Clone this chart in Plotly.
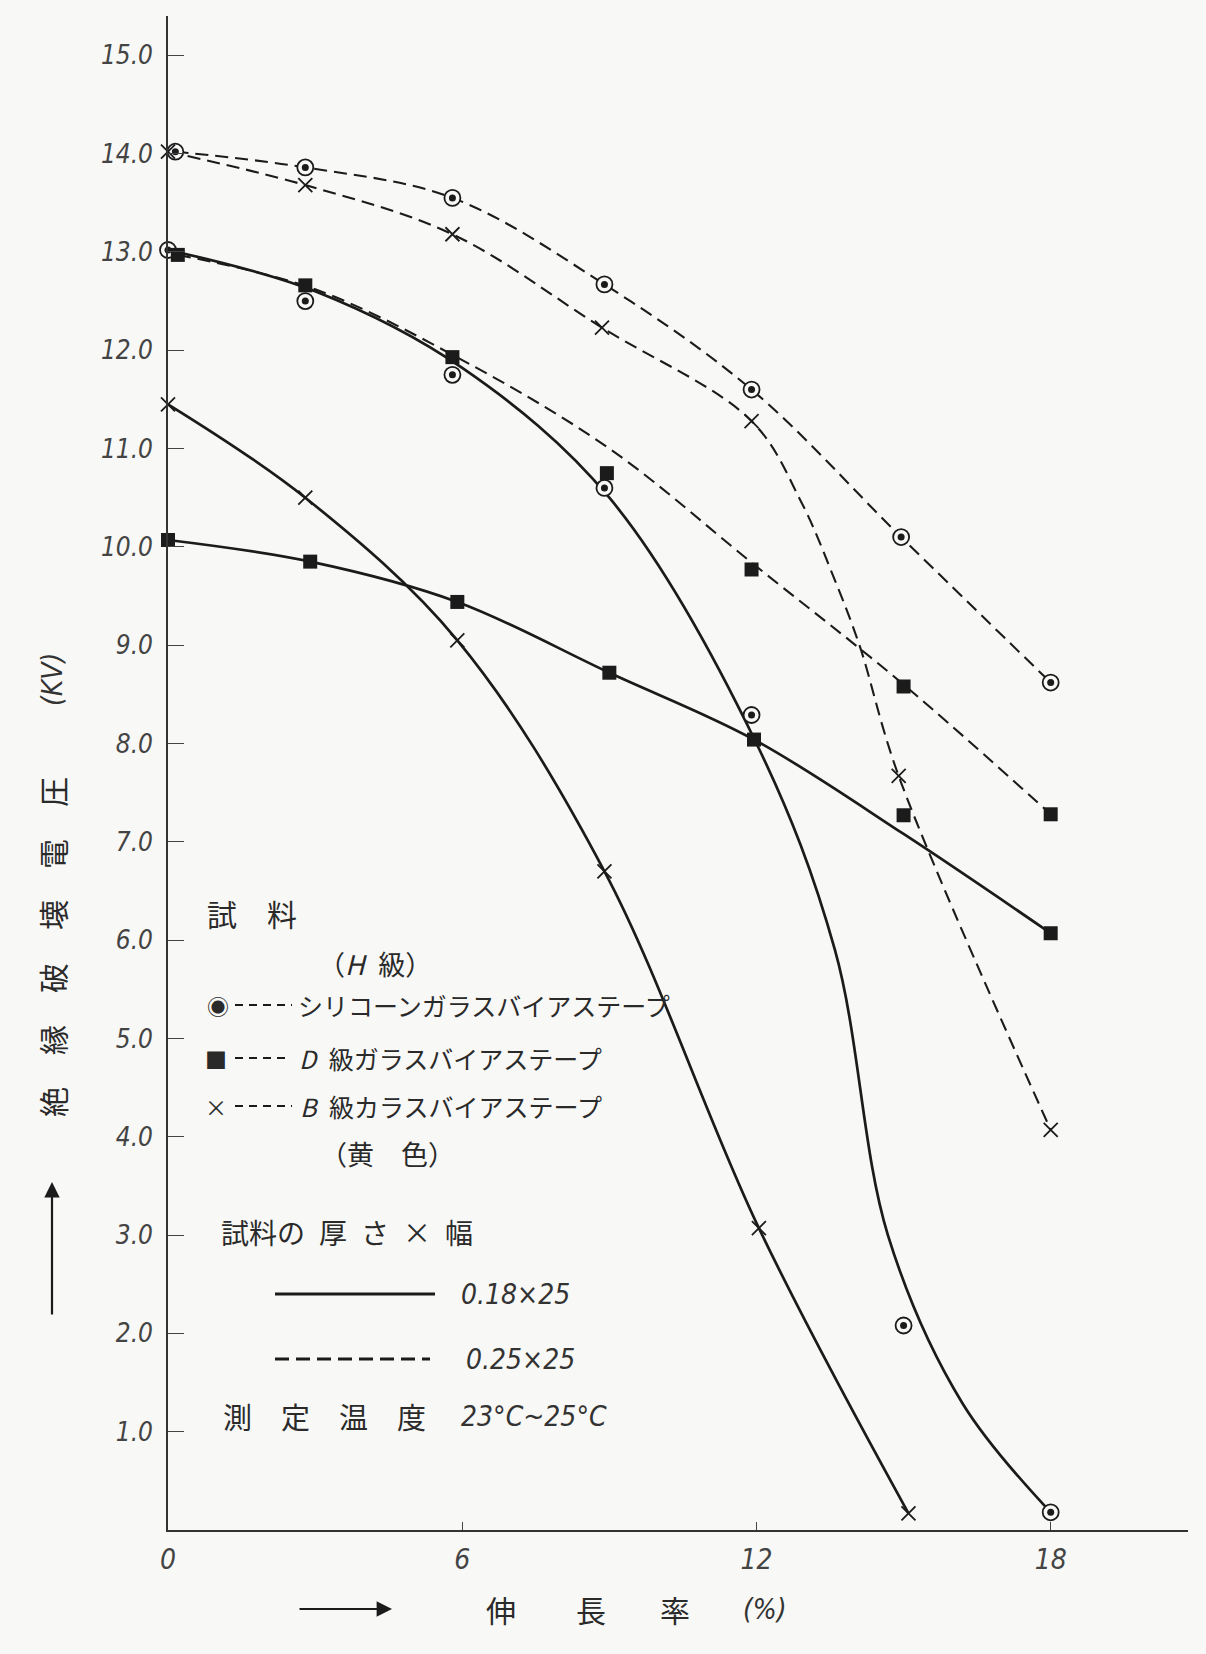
import plotly.graph_objects as go

# ---------------- data ----------------
# Silicone glass bias tape (H class) - measured points
sil_thin_x = [0, 2.8, 5.8, 8.9, 11.9, 15.0, 18.0]
sil_thin_y = [13.02, 12.5, 11.75, 10.6, 8.29, 2.08, 0.18]
sil_thick_x = [0.15, 2.8, 5.8, 8.9, 11.9, 14.95, 18.0]
sil_thick_y = [14.02, 13.86, 13.55, 12.67, 11.6, 10.1, 8.62]
# D class glass bias tape - measured points
d_thin_x = [0, 2.9, 5.9, 9.0, 11.95, 15.0, 18.0]
d_thin_y = [10.07, 9.85, 9.44, 8.72, 8.04, 7.27, 6.07]
d_thick_x = [0.2, 2.8, 5.8, 8.95, 11.9, 15.0, 18.0]
d_thick_y = [12.97, 12.66, 11.93, 10.75, 9.77, 8.58, 7.28]
# B class glass bias tape (yellow) - measured points
b_thin_x = [0, 2.8, 5.9, 8.9, 12.05, 15.1]
b_thin_y = [11.45, 10.5, 9.05, 6.7, 3.07, 0.17]
b_thick_x = [0, 2.8, 5.8, 8.85, 11.9, 14.9, 18.0]
b_thick_y = [14.02, 13.68, 13.18, 12.23, 11.28, 7.67, 4.07]

# hand-drawn curves (read along the drawn lines where they leave the points)
sil_thin_cx = [0, 3, 6, 9, 12, 13.6, 14.68, 16.2, 18.0]
sil_thin_cy = [13.02, 12.6, 11.82, 10.5, 8.0, 5.9, 3.0, 1.29, 0.18]
d_thin_cx = [0, 2.9, 5.9, 9.0, 11.95, 15.0, 18.0]
d_thin_cy = [10.07, 9.85, 9.44, 8.72, 8.04, 7.08, 6.07]
d_thick_cx = [0.2, 3.0, 6.0, 9.0, 12.0, 15.0, 18.0]
d_thick_cy = [12.97, 12.62, 11.9, 11.0, 9.8, 8.6, 7.28]
b_thick_cx = [0, 2.8, 5.8, 8.85, 11.9, 12.9, 13.6, 14.1, 14.9, 18.0]
b_thick_cy = [14.02, 13.68, 13.18, 12.23, 11.28, 10.47, 9.66, 9.0, 7.67, 4.07]

x_ticks = [0, 6, 12, 18]
x_ticklabels = ["0", "6", "12", "18"]
y_ticks = list(range(1, 16))
y_ticklabels = [f"{v}.0" for v in y_ticks]

# ---------------- styling ----------------
INK = "#1b1b1b"
BG = "#f8f8f6"
NUM_FONT = "Liberation Sans Narrow, DejaVu Sans Condensed, Roboto, sans-serif"
JP_FONT = "Noto Sans CJK JP, Noto Sans CJK SC, sans-serif"

W, H = 1206, 1654
ML, MR, MT, MB = 168, 18, 16, 124
PW, PH = W - ML - MR, H - MT - MB
X0, Y0 = ML, H - MB


def px(xpix):
    return (xpix - X0) / PW


def py(ypix):
    return (Y0 - ypix) / PH


fig = go.Figure()

SOLID = dict(color=INK, width=2.7)
DASH = dict(color=INK, width=2.1, dash="13px,7px")


def add_curve(cx, cy, line):
    fig.add_trace(go.Scatter(x=cx, y=cy, mode="lines", line=dict(shape="spline", smoothing=1.0, **line),
                             hoverinfo="skip", showlegend=False, cliponaxis=False))


def add_marks(mx, my, symbol, size, lw):
    fig.add_trace(go.Scatter(x=mx, y=my, mode="markers",
                             marker=dict(symbol=symbol, size=size, color=INK,
                                         line=dict(color=INK, width=lw)),
                             showlegend=False, cliponaxis=False))


add_curve(sil_thick_x, sil_thick_y, DASH)
add_curve(b_thick_cx, b_thick_cy, DASH)
add_curve(d_thick_cx, d_thick_cy, DASH)
add_curve(sil_thin_cx, sil_thin_cy, SOLID)
add_curve(d_thin_cx, d_thin_cy, SOLID)
add_curve(b_thin_x, b_thin_y, SOLID)

for mx, my in [(sil_thin_x, sil_thin_y), (sil_thick_x, sil_thick_y)]:
    fig.add_trace(go.Scatter(x=mx, y=my, mode="markers",
                             marker=dict(symbol="circle", size=16, color=BG,
                                         line=dict(color=INK, width=1.8)),
                             showlegend=False, cliponaxis=False))
    fig.add_trace(go.Scatter(x=mx, y=my, mode="markers",
                             marker=dict(symbol="circle", size=7, color=INK),
                             showlegend=False, cliponaxis=False))
for mx, my in [(d_thin_x, d_thin_y), (d_thick_x, d_thick_y)]:
    add_marks(mx, my, "square", 14, 0)
for mx, my in [(b_thin_x, b_thin_y), (b_thick_x, b_thick_y)]:
    add_marks(mx, my, "x-thin-open", 14, 1.8)

ann = []


def text(x, y, t, size=26, family=JP_FONT, xanchor="left", angle=0, italic=False, color="#2a2a2a"):
    ann.append(dict(x=px(x), y=py(y), xref="paper", yref="paper", text=t, showarrow=False,
                    xanchor=xanchor, yanchor="middle", textangle=angle,
                    font=dict(family=family, size=size, color=color,
                              style="italic" if italic else "normal")))


# legend block
text(205, 913, "試\u3000料", 30)
text(316, 963, "（<i>H</i>\u2002級）", 27)
text(218, 1005, "◉", 22, xanchor="center")
text(216, 1058, "■", 22, xanchor="center")
text(216, 1106, "×", 22, xanchor="center")
text(296, 1005, "シリコーンガラスバイアステープ", 25)
text(297, 1058, "<i>D</i>\u2002級ガラスバイアステープ", 25)
text(298, 1106, "<i>B</i>\u2002級カラスバイアステープ", 25)
text(318, 1153, "（黄\u3000色）", 27)
text(219, 1232, "試料の\u2002厚\u2002さ\u2002×\u2002幅", 28)
text(459, 1294, "0.18×25", 28, family=NUM_FONT, italic=True, color="#333")
text(464, 1359, "0.25×25", 28, family=NUM_FONT, italic=True, color="#333")
text(221, 1416, "測\u3000定\u3000温\u3000度", 29)
text(459, 1416, "23°C~25°C", 28, family=NUM_FONT, italic=True, color="#333")

# y-axis title (rotated characters)
for ch, yy in [("絶", 1102), ("縁", 1040), ("破", 978), ("壊", 915), ("電", 854), ("圧", 792)]:
    text(52, yy, ch, 30, xanchor="center", angle=-90)
text(52, 680, "(KV)", 28, family=NUM_FONT, xanchor="center", angle=-90, italic=True, color="#333")
# x-axis title
for ch, xx in [("伸", 501), ("長", 591), ("率", 675)]:
    text(xx, 1609, ch, 30, xanchor="center")
text(765, 1609, "(%)", 28, family=NUM_FONT, xanchor="center", italic=True, color="#333")

# arrows
ann.append(dict(x=px(52), y=py(1182), xref="paper", yref="paper", ax=0, ay=134, text="",
                showarrow=True, arrowhead=2, arrowsize=1.4, arrowwidth=2.2, arrowcolor=INK))
ann.append(dict(x=px(392), y=py(1609), xref="paper", yref="paper", ax=-94, ay=0, text="",
                showarrow=True, arrowhead=2, arrowsize=1.4, arrowwidth=2.2, arrowcolor=INK))

shapes = [
    # legend dashes next to symbols
    dict(type="line", xref="paper", yref="paper", x0=px(235), x1=px(292), y0=py(1005), y1=py(1005),
         line=dict(color=INK, width=1.8, dash="8px,6px")),
    dict(type="line", xref="paper", yref="paper", x0=px(235), x1=px(290), y0=py(1058), y1=py(1058),
         line=dict(color=INK, width=1.8, dash="8px,6px")),
    dict(type="line", xref="paper", yref="paper", x0=px(235), x1=px(292), y0=py(1106), y1=py(1106),
         line=dict(color=INK, width=1.8, dash="8px,6px")),
    # line style samples
    dict(type="line", xref="paper", yref="paper", x0=px(275), x1=px(435), y0=py(1294), y1=py(1294),
         line=dict(color=INK, width=3)),
    dict(type="line", xref="paper", yref="paper", x0=px(275), x1=px(430), y0=py(1359), y1=py(1359),
         line=dict(color=INK, width=3, dash="14px,7px")),
]

fig.update_layout(
    width=W, height=H,
    margin=dict(l=ML, r=MR, t=MT, b=MB),
    paper_bgcolor=BG, plot_bgcolor=BG,
    showlegend=False,
    annotations=ann, shapes=shapes,
    xaxis=dict(range=[0, 20.8], showline=True, linecolor="#333", linewidth=1.6,
               showgrid=False, zeroline=False, tickvals=x_ticks, ticktext=x_ticklabels,
               ticks="inside", ticklen=8, tickwidth=1.2, tickcolor="#444",
               tickfont=dict(family=NUM_FONT, size=28, color="#444", style="italic"),
               ticklabelstandoff=4),
    yaxis=dict(range=[0, 15.4], showline=True, linecolor="#333", linewidth=1.6,
               showgrid=False, zeroline=False, tickvals=y_ticks, ticktext=y_ticklabels,
               ticks="inside", ticklen=16, tickwidth=1.2, tickcolor="#444",
               tickfont=dict(family=NUM_FONT, size=26, color="#444", style="italic"),
               ticklabelstandoff=8),
)

fig.write_html("out.html")
